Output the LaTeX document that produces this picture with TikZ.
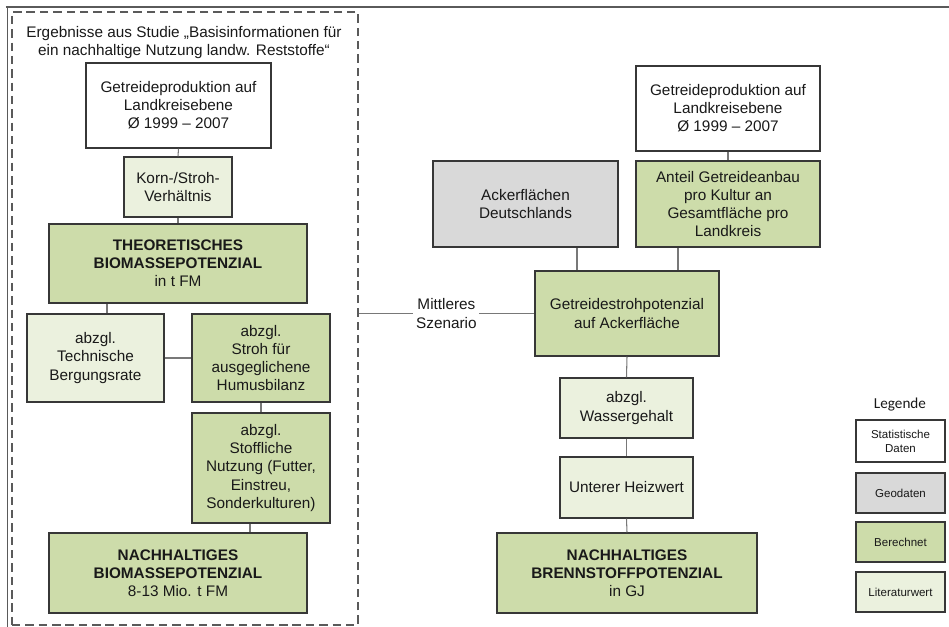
\documentclass[tikz,border=0pt]{standalone}
\usepackage{fontspec}
\setmainfont{Liberation Sans}
\newfontfamily\legfont{Carlito}
\usepackage{xcolor}
\usetikzlibrary{positioning,calc}

\definecolor{framegrey}{RGB}{90,90,90}
\definecolor{boxline}{RGB}{55,55,55}
\definecolor{linegrey}{RGB}{120,120,120}
\definecolor{textgrey}{RGB}{25,25,25}
\definecolor{geogrey}{RGB}{217,217,217}
\definecolor{calcgreen}{RGB}{205,220,170}
\definecolor{litgreen}{RGB}{235,241,222}

\begin{document}
\begin{tikzpicture}[
    font=\fontsize{10.9}{12.9}\selectfont,
    text=textgrey,
    basebox/.style={draw=boxline, line width=1.05pt, align=center, inner sep=2pt},
    statbox/.style={basebox, fill=white},
    geobox/.style={basebox, fill=geogrey},
    calcbox/.style={basebox, fill=calcgreen},
    litbox/.style={basebox, fill=litgreen},
    legbox/.style={minimum width=2.225cm, minimum height=1.0cm, font=\fontsize{8.2}{9.9}\selectfont},
    link/.style={draw=linegrey, line width=0.75pt},
    studyframe/.style={draw=framegrey, dash pattern=on 6pt off 3.5pt, line width=0.85pt, minimum width=8.65cm, minimum height=15.325cm, inner sep=0pt}
]
\useasboundingbox (0,0) rectangle (23.725,-15.675);
\draw[framegrey, line width=1.4pt] (0.15,-0.175) -- (23.725,-0.175);
\draw[framegrey, line width=0.7pt] (0.175,-0.175) -- (0.175,-15.675);

% study (left block)
\node[studyframe] (studie) at (4.625,-7.9625) {};
\node[align=center] (titel) at (4.6,-1.07) {Ergebnisse aus Studie „Basisinformationen für\\ein nachhaltige Nutzung landw. Reststoffe“};
\node[statbox, minimum width=4.625cm, minimum height=2.125cm] (prodL) at (4.4625,-2.6375) {Getreideproduktion auf\\Landkreisebene\\Ø 1999 – 2007};
\node[litbox, minimum width=2.7cm, minimum height=1.5cm] (korn) at (4.45,-4.675) {Korn-/Stroh-\\Verhältnis};
\node[calcbox, minimum width=6.45cm, minimum height=1.975cm] (theo) at (4.45,-6.5875) {\textbf{THEORETISCHES}\\\textbf{BIOMASSEPOTENZIAL}\\in t FM};
\node[litbox, minimum width=3.425cm, minimum height=2.2cm] (berg) at (2.3875,-8.95) {abzgl.\\Technische\\Bergungsrate};
\node[calcbox, minimum width=3.45cm, minimum height=2.2cm] (humus) at (6.525,-8.95) {abzgl.\\Stroh für\\ausgeglichene\\Humusbilanz};
\node[calcbox, minimum width=3.45cm, minimum height=2.75cm] (stoff) at (6.525,-11.7) {abzgl.\\Stoffliche\\Nutzung (Futter,\\Einstreu,\\Sonderkulturen)};
\node[calcbox, minimum width=6.45cm, minimum height=2.0cm] (nachB) at (4.45,-14.325) {\textbf{NACHHALTIGES}\\\textbf{BIOMASSEPOTENZIAL}\\8-13 Mio. t FM};
\draw[link] (prodL.south) -- (korn.north);
\draw[link] (korn.south) -- (theo.north);
\draw[link] ([xshift=0.2875cm]berg.north) -- ([xshift=0.2875cm]berg.north |- theo.south);
\draw[link] (berg.east) -- (humus.west);
\draw[link] (humus.south) -- (stoff.north);
\draw[link] ([xshift=-0.275cm]stoff.south) -- ([xshift=-0.275cm]stoff.south |- nachB.north);

% fuel chain (right block)
\node[statbox, minimum width=4.6cm, minimum height=2.125cm] (prodR) at (18.2,-2.7125) {Getreideproduktion auf\\Landkreisebene\\Ø 1999 – 2007};
\node[geobox, minimum width=4.625cm, minimum height=2.15cm] (acker) at (13.1375,-5.1) {Ackerflächen\\Deutschlands};
\node[calcbox, minimum width=4.6cm, minimum height=2.15cm] (anteil) at (18.2,-5.1) {Anteil Getreideanbau\\pro Kultur an\\Gesamtfläche pro\\Landkreis};
\node[calcbox, minimum width=4.6cm, minimum height=2.125cm] (stroh) at (15.675,-7.8375) {Getreidestrohpotenzial\\auf Ackerfläche};
\node[litbox, minimum width=3.325cm, minimum height=1.5cm] (wasser) at (15.6625,-10.2) {abzgl.\\Wassergehalt};
\node[litbox, minimum width=3.325cm, minimum height=1.525cm] (heiz) at (15.6625,-12.1875) {Unterer Heizwert};
\node[calcbox, minimum width=6.5cm, minimum height=2.0cm] (nachF) at (15.675,-14.325) {\textbf{NACHHALTIGES}\\\textbf{BRENNSTOFFPOTENZIAL}\\in GJ};
\draw[link] (prodR.south) -- (anteil.north);
\draw[link] ([xshift=1.2875cm]acker.south) -- ([xshift=1.2875cm]acker.south |- stroh.north);
\draw[link] ([xshift=-1.25cm]anteil.south) -- ([xshift=-1.25cm]anteil.south |- stroh.north);
\draw[link] (stroh.south) -- (wasser.north);
\draw[link] (wasser.south) -- (heiz.north);
\draw[link] (heiz.south) -- (nachF.north);
\draw[link] (studie.east |- stroh.west) -- node[fill=white, align=center, inner sep=2pt] (szen) {Mittleres\\Szenario} (stroh.west);

% legend
\node[font=\legfont\fontsize{10.8}{12}\selectfont] (leg) at (22.5,-10.12) {Legende};
\node[statbox, legbox, minimum height=1.05cm] (legStat) at (22.5125,-11.025) {Statistische\\Daten};
\node[geobox, legbox] (legGeo) at (22.5125,-12.325) {Geodaten};
\node[calcbox, legbox] (legCalc) at (22.5125,-13.55) {Berechnet};
\node[litbox, legbox] (legLit) at (22.5125,-14.8) {Literaturwert};
\end{tikzpicture}
\end{document}
